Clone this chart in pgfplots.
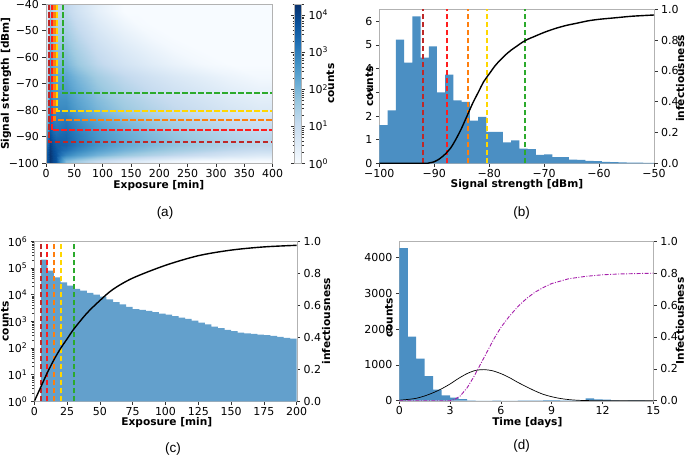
\documentclass[border=0pt]{standalone}
\usepackage{pgfplots}
\pgfplotsset{compat=1.18}
\usepackage{fontspec}
\setmainfont{DejaVu Sans}
\newfontfamily\capfont{Liberation Sans}
\definecolor{histb}{RGB}{75,143,195}
\definecolor{histc}{RGB}{99,160,204}
\definecolor{lbrown}{RGB}{190,40,40}
\definecolor{lred}{RGB}{255,30,30}
\definecolor{lorange}{RGB}{255,127,14}
\definecolor{lgold}{RGB}{255,215,0}
\definecolor{lgreen}{RGB}{44,170,44}
\definecolor{lpurple}{RGB}{165,30,170}
\pgfplotsset{
  base/.style={scale only axis, anchor=south west, font=\fontsize{11}{13}\selectfont,
    axis line style={black!30}, tick style={black!80, line width=0.6pt}, tick align=outside,
    major tick length=3.5pt, minor tick length=2pt,
    /pgf/number format/assume math mode=true, /pgf/number format/1000 sep={},
    scaled ticks=false, enlargelimits=false,
    xticklabel style={yshift=1pt},
    label style={font=\fontsize{10.6}{12}\selectfont\bfseries}},
  vl/.style={line width=2pt, dash pattern=on 5.5pt off 2.5pt},
  ylab/.style 2 args={ylabel style={at={(axis description cs:#1,#2)}, anchor=center}},
  xlab/.style 2 args={xlabel style={at={(axis description cs:#1,#2)}, anchor=center}},
}
\begin{document}
\begin{tikzpicture}
\useasboundingbox (0,0) rectangle (685pt,456pt);
% ---------------- (a) ----------------
\begin{axis}[base, at={(46pt,292.7pt)}, width=226.7pt, height=159.3pt,
  xmin=0, xmax=400, ymin=-100, ymax=-40,
  xtick={0,50,100,150,200,250,300,350,400},
  ytick={-100,-90,-80,-70,-60,-50,-40},
  yticklabels={−100,−90,−80,−70,−60,−50,−40},
  tick pos=left, axis on top,
  xlabel={Exposure [min]}, ylabel={Signal strength [dBm]},
  xlab={0.498}{-0.137}, ylab={-0.176}{0.5},
  colormap={blues}{rgb255=(247,251,255) rgb255=(222,235,247) rgb255=(198,219,239) rgb255=(158,202,225) rgb255=(107,174,214) rgb255=(66,146,198) rgb255=(33,113,181) rgb255=(8,81,156) rgb255=(8,48,107)},
  point meta min=0, point meta max=4.3,
  colorbar,
  colorbar style={at={(parent axis.north east)}, anchor=north west, xshift=13.3pt,
    scale only axis, width=7pt, height=159.3pt,
    font=\fontsize{11}{13}\selectfont,
    axis line style={black!30}, tick style={black!80, line width=0.6pt}, tick align=outside,
    major tick length=3.5pt, minor tick length=2pt,
    ytick={0,1,2,3,4},
    yticklabels={10\textsuperscript{0},10\textsuperscript{1},10\textsuperscript{2},10\textsuperscript{3},10\textsuperscript{4}},
    minor ytick={0.301,0.477,0.602,0.699,0.778,0.845,0.903,0.954,1.301,1.477,1.602,1.699,1.778,1.845,1.903,1.954,2.301,2.477,2.602,2.699,2.778,2.845,2.903,2.954,3.301,3.477,3.602,3.699,3.778,3.845,3.903,3.954,4.301},
    ylabel={counts},
    ylabel style={font=\fontsize{10.6}{12}\selectfont\bfseries, at={(axis description cs:5.14,0.5)}, anchor=center}},
]
\addplot[surf, shader=interp, mesh/cols=20, point meta=explicit] coordinates {
(0,-100)[3.6] (2.5,-100)[3.6] (7.5,-100)[4.2] (12.5,-100)[3.9] (17.5,-100)[3.7] (25,-100)[2.8] (35,-100)[1.9] (45,-100)[1.7] (55,-100)[1.55] (70,-100)[1.35] (90,-100)[1.1] (112.5,-100)[0.9] (137.5,-100)[0.7] (162.5,-100)[0.55] (187.5,-100)[0.4] (225,-100)[0.2] (275,-100)[0] (325,-100)[0] (375,-100)[0] (400,-100)[0]
(0,-99)[3.6] (2.5,-99)[3.6] (7.5,-99)[4.2] (12.5,-99)[3.9] (17.5,-99)[3.7] (25,-99)[2.8] (35,-99)[1.9] (45,-99)[1.7] (55,-99)[1.55] (70,-99)[1.35] (90,-99)[1.1] (112.5,-99)[0.9] (137.5,-99)[0.7] (162.5,-99)[0.55] (187.5,-99)[0.4] (225,-99)[0.2] (275,-99)[0] (325,-99)[0] (375,-99)[0] (400,-99)[0]
(0,-97)[3.6] (2.5,-97)[3.6] (7.5,-97)[4.2] (12.5,-97)[3.9] (17.5,-97)[3.7] (25,-97)[3.25] (35,-97)[2.85] (45,-97)[2.65] (55,-97)[2.5] (70,-97)[2.3] (90,-97)[2.05] (112.5,-97)[1.85] (137.5,-97)[1.65] (162.5,-97)[1.5] (187.5,-97)[1.35] (225,-97)[1.15] (275,-97)[0.95] (325,-97)[0.75] (375,-97)[0.6] (400,-97)[0.6]
(0,-95)[3.5] (2.5,-95)[3.5] (7.5,-95)[4.15] (12.5,-95)[3.85] (17.5,-95)[3.65] (25,-95)[3.45] (35,-95)[3.25] (45,-95)[3.05] (55,-95)[2.9] (70,-95)[2.7] (90,-95)[2.45] (112.5,-95)[2.25] (137.5,-95)[2.05] (162.5,-95)[1.9] (187.5,-95)[1.75] (225,-95)[1.55] (275,-95)[1.35] (325,-95)[1.15] (375,-95)[1.0] (400,-95)[1.0]
(0,-93)[3.3] (2.5,-93)[3.3] (7.5,-93)[4.05] (12.5,-93)[3.75] (17.5,-93)[3.55] (25,-93)[3.5] (35,-93)[3.45] (45,-93)[3.25] (55,-93)[3.1] (70,-93)[2.9] (90,-93)[2.65] (112.5,-93)[2.45] (137.5,-93)[2.25] (162.5,-93)[2.1] (187.5,-93)[1.95] (225,-93)[1.75] (275,-93)[1.55] (325,-93)[1.35] (375,-93)[1.2] (400,-93)[1.2]
(0,-91)[3.0] (2.5,-91)[3.0] (7.5,-91)[3.9] (12.5,-91)[3.6] (17.5,-91)[3.45] (25,-91)[3.45] (35,-91)[3.45] (45,-91)[3.25] (55,-91)[3.1] (70,-91)[2.9] (90,-91)[2.65] (112.5,-91)[2.45] (137.5,-91)[2.25] (162.5,-91)[2.1] (187.5,-91)[1.95] (225,-91)[1.75] (275,-91)[1.55] (325,-91)[1.35] (375,-91)[1.2] (400,-91)[1.2]
(0,-89)[2.6] (2.5,-89)[2.6] (7.5,-89)[3.75] (12.5,-89)[3.45] (17.5,-89)[3.3] (25,-89)[3.35] (35,-89)[3.4] (45,-89)[3.2] (55,-89)[3.05] (70,-89)[2.85] (90,-89)[2.6] (112.5,-89)[2.4] (137.5,-89)[2.2] (162.5,-89)[2.05] (187.5,-89)[1.9] (225,-89)[1.7] (275,-89)[1.5] (325,-89)[1.3] (375,-89)[1.15] (400,-89)[1.15]
(0,-87)[2.3] (2.5,-87)[2.3] (7.5,-87)[3.6] (12.5,-87)[3.3] (17.5,-87)[3.15] (25,-87)[3.2] (35,-87)[3.3] (45,-87)[3.1] (55,-87)[2.95] (70,-87)[2.75] (90,-87)[2.5] (112.5,-87)[2.3] (137.5,-87)[2.1] (162.5,-87)[1.95] (187.5,-87)[1.8] (225,-87)[1.6] (275,-87)[1.4] (325,-87)[1.2] (375,-87)[1.05] (400,-87)[1.05]
(0,-85)[2.0] (2.5,-85)[2.0] (7.5,-85)[3.45] (12.5,-85)[3.15] (17.5,-85)[3.05] (25,-85)[3.1] (35,-85)[3.2] (45,-85)[3.0] (55,-85)[2.85] (70,-85)[2.65] (90,-85)[2.4] (112.5,-85)[2.2] (137.5,-85)[2.0] (162.5,-85)[1.85] (187.5,-85)[1.7] (225,-85)[1.5] (275,-85)[1.3] (325,-85)[1.1] (375,-85)[0.95] (400,-85)[0.95]
(0,-83)[1.8] (2.5,-83)[1.8] (7.5,-83)[3.35] (12.5,-83)[3.05] (17.5,-83)[2.95] (25,-83)[3.0] (35,-83)[3.05] (45,-83)[2.85] (55,-83)[2.7] (70,-83)[2.5] (90,-83)[2.25] (112.5,-83)[2.05] (137.5,-83)[1.85] (162.5,-83)[1.7] (187.5,-83)[1.55] (225,-83)[1.35] (275,-83)[1.15] (325,-83)[0.95] (375,-83)[0.8] (400,-83)[0.8]
(0,-81)[1.6] (2.5,-81)[1.6] (7.5,-81)[3.25] (12.5,-81)[2.95] (17.5,-81)[2.85] (25,-81)[2.9] (35,-81)[2.9] (45,-81)[2.7] (55,-81)[2.55] (70,-81)[2.35] (90,-81)[2.1] (112.5,-81)[1.9] (137.5,-81)[1.7] (162.5,-81)[1.55] (187.5,-81)[1.4] (225,-81)[1.2] (275,-81)[1.0] (325,-81)[0.8] (375,-81)[0.65] (400,-81)[0.65]
(0,-78.75)[1.5] (2.5,-78.75)[1.5] (7.5,-78.75)[3.15] (12.5,-78.75)[2.85] (17.5,-78.75)[2.75] (25,-78.75)[2.8] (35,-78.75)[2.8] (45,-78.75)[2.6] (55,-78.75)[2.45] (70,-78.75)[2.25] (90,-78.75)[2.0] (112.5,-78.75)[1.8] (137.5,-78.75)[1.6] (162.5,-78.75)[1.45] (187.5,-78.75)[1.3] (225,-78.75)[1.1] (275,-78.75)[0.9] (325,-78.75)[0.7] (375,-78.75)[0.55] (400,-78.75)[0.55]
(0,-76.25)[1.4] (2.5,-76.25)[1.4] (7.5,-76.25)[3.05] (12.5,-76.25)[2.75] (17.5,-76.25)[2.65] (25,-76.25)[2.7] (35,-76.25)[2.7] (45,-76.25)[2.5] (55,-76.25)[2.35] (70,-76.25)[2.15] (90,-76.25)[1.9] (112.5,-76.25)[1.7] (137.5,-76.25)[1.5] (162.5,-76.25)[1.35] (187.5,-76.25)[1.2] (225,-76.25)[1.0] (275,-76.25)[0.8] (325,-76.25)[0.6] (375,-76.25)[0.45] (400,-76.25)[0.45]
(0,-72.5)[1.2] (2.5,-72.5)[1.2] (7.5,-72.5)[2.9] (12.5,-72.5)[2.6] (17.5,-72.5)[2.5] (25,-72.5)[2.55] (35,-72.5)[2.55] (45,-72.5)[2.35] (55,-72.5)[2.2] (70,-72.5)[2.0] (90,-72.5)[1.75] (112.5,-72.5)[1.55] (137.5,-72.5)[1.35] (162.5,-72.5)[1.2] (187.5,-72.5)[1.05] (225,-72.5)[0.85] (275,-72.5)[0.65] (325,-72.5)[0.45] (375,-72.5)[0.3] (400,-72.5)[0.3]
(0,-67.5)[1.0] (2.5,-67.5)[1.0] (7.5,-67.5)[2.7] (12.5,-67.5)[2.4] (17.5,-67.5)[2.3] (25,-67.5)[2.35] (35,-67.5)[2.35] (45,-67.5)[2.15] (55,-67.5)[2.0] (70,-67.5)[1.8] (90,-67.5)[1.55] (112.5,-67.5)[1.35] (137.5,-67.5)[1.15] (162.5,-67.5)[1.0] (187.5,-67.5)[0.85] (225,-67.5)[0.65] (275,-67.5)[0.45] (325,-67.5)[0.25] (375,-67.5)[0.1] (400,-67.5)[0.1]
(0,-62.5)[0.8] (2.5,-62.5)[0.8] (7.5,-62.5)[2.5] (12.5,-62.5)[2.2] (17.5,-62.5)[2.0] (25,-62.5)[2.0] (35,-62.5)[2.0] (45,-62.5)[1.8] (55,-62.5)[1.65] (70,-62.5)[1.45] (90,-62.5)[1.2] (112.5,-62.5)[1.0] (137.5,-62.5)[0.8] (162.5,-62.5)[0.65] (187.5,-62.5)[0.5] (225,-62.5)[0.3] (275,-62.5)[0.1] (325,-62.5)[0] (375,-62.5)[0] (400,-62.5)[0]
(0,-57.5)[0.6] (2.5,-57.5)[0.6] (7.5,-57.5)[2.3] (12.5,-57.5)[2.0] (17.5,-57.5)[1.8] (25,-57.5)[1.8] (35,-57.5)[1.8] (45,-57.5)[1.6] (55,-57.5)[1.45] (70,-57.5)[1.25] (90,-57.5)[1.0] (112.5,-57.5)[0.8] (137.5,-57.5)[0.6] (162.5,-57.5)[0.45] (187.5,-57.5)[0.3] (225,-57.5)[0.1] (275,-57.5)[0] (325,-57.5)[0] (375,-57.5)[0] (400,-57.5)[0]
(0,-52.5)[0.5] (2.5,-52.5)[0.5] (7.5,-52.5)[2.1] (12.5,-52.5)[1.8] (17.5,-52.5)[1.6] (25,-52.5)[1.6] (35,-52.5)[1.6] (45,-52.5)[1.4] (55,-52.5)[1.25] (70,-52.5)[1.05] (90,-52.5)[0.8] (112.5,-52.5)[0.6] (137.5,-52.5)[0.4] (162.5,-52.5)[0.25] (187.5,-52.5)[0.1] (225,-52.5)[0] (275,-52.5)[0] (325,-52.5)[0] (375,-52.5)[0] (400,-52.5)[0]
(0,-47.5)[0.4] (2.5,-47.5)[0.4] (7.5,-47.5)[1.9] (12.5,-47.5)[1.6] (17.5,-47.5)[1.4] (25,-47.5)[1.4] (35,-47.5)[1.4] (45,-47.5)[1.2] (55,-47.5)[1.05] (70,-47.5)[0.85] (90,-47.5)[0.6] (112.5,-47.5)[0.4] (137.5,-47.5)[0.2] (162.5,-47.5)[0.05] (187.5,-47.5)[0] (225,-47.5)[0] (275,-47.5)[0] (325,-47.5)[0] (375,-47.5)[0] (400,-47.5)[0]
(0,-42.5)[0.3] (2.5,-42.5)[0.3] (7.5,-42.5)[1.7] (12.5,-42.5)[1.4] (17.5,-42.5)[1.2] (25,-42.5)[1.2] (35,-42.5)[1.2] (45,-42.5)[1.0] (55,-42.5)[0.85] (70,-42.5)[0.65] (90,-42.5)[0.4] (112.5,-42.5)[0.2] (137.5,-42.5)[0] (162.5,-42.5)[0] (187.5,-42.5)[0] (225,-42.5)[0] (275,-42.5)[0] (325,-42.5)[0] (375,-42.5)[0] (400,-42.5)[0]
(0,-40)[0.3] (2.5,-40)[0.3] (7.5,-40)[1.7] (12.5,-40)[1.4] (17.5,-40)[1.2] (25,-40)[1.2] (35,-40)[1.2] (45,-40)[1.0] (55,-40)[0.85] (70,-40)[0.65] (90,-40)[0.4] (112.5,-40)[0.2] (137.5,-40)[0] (162.5,-40)[0] (187.5,-40)[0] (225,-40)[0] (275,-40)[0] (325,-40)[0] (375,-40)[0] (400,-40)[0]
};
\addplot[vl, line width=2.2pt, lbrown] coordinates {(5,-40) (5,-92) (400,-92)};
\addplot[vl, line width=2.2pt, lred] coordinates {(10,-40) (10,-87.6) (400,-87.6)};
\addplot[vl, line width=2.2pt, lorange] coordinates {(15,-40) (15,-83.8) (400,-83.8)};
\addplot[vl, line width=2.2pt, lgold] coordinates {(20,-40) (20,-80.4) (400,-80.4)};
\addplot[vl, line width=2.2pt, lgreen] coordinates {(30,-40) (30,-73.5) (400,-73.5)};
\end{axis}
% ---------------- (b) ----------------
\begin{axis}[base, at={(379.3pt,292.7pt)}, width=274.7pt, height=154pt,
  xmin=-100, xmax=-50, ymin=0, ymax=6.5,
  xtick={-100,-90,-80,-70,-60,-50}, xticklabels={−100,−90,−80,−70,−60,−50},
  ytick={0,1,2,3,4,5,6}, tick pos=left,
  xlabel={Signal strength [dBm]}, ylabel={counts},
  xlab={0.501}{-0.141}, ylab={-0.036}{0.5}]
\addplot[ybar interval, fill=histb, draw=none] coordinates {
(-100,1.61) (-98.5,2.23) (-97,5.22) (-95.5,4.25) (-94,6.20) (-92.5,4.46) (-91,4.94) (-89.5,2.99)
(-88,3.74) (-86.5,2.66) (-85,2.59) (-83.5,1.80) (-82,1.96) (-80.5,1.33) (-79,1.33) (-77.5,0.88)
(-76,0.97) (-74.5,0.62) (-73,0.60) (-71.5,0.36) (-70,0.38) (-68.5,0.26) (-67,0.26) (-65.5,0.16)
(-64,0.14) (-62.5,0.10) (-61,0.09) (-59.5,0.06) (-58,0.05) (-56.5,0.04) (-55,0.03) (-53.5,0.03)
(-52,0.02) (-50.5,0.02) (-49,0.02)};
\addplot[vl, draw=lbrown] coordinates {(-92,0) (-92,6.5)};
\addplot[vl, draw=lred] coordinates {(-87.6,0) (-87.6,6.5)};
\addplot[vl, draw=lorange] coordinates {(-83.8,0) (-83.8,6.5)};
\addplot[vl, draw=lgold] coordinates {(-80.4,0) (-80.4,6.5)};
\addplot[vl, draw=lgreen] coordinates {(-73.5,0) (-73.5,6.5)};
\node[anchor=south west, inner sep=0pt, font=\fontsize{11}{13}\selectfont] at (rel axis cs:0,1) {1e4};
\end{axis}
\begin{axis}[base, at={(379.3pt,292.7pt)}, width=274.7pt, height=154pt,
  xmin=-100, xmax=-50, ymin=0, ymax=1,
  axis y line*=right, axis x line=none,
  ytick={0,0.2,0.4,0.6,0.8,1}, yticklabels={0.0,0.2,0.4,0.6,0.8,1.0},
  ylabel={infectiousness}, ylab={1.095}{0.55}]
\addplot[black, line width=1.4pt, smooth] coordinates {
(-100,0) (-92,0) (-91,0.002) (-90,0.01) (-89,0.03) (-88,0.06) (-87,0.1) (-86,0.16) (-85,0.23)
(-84,0.31) (-83,0.39) (-82,0.46) (-81,0.53) (-80,0.58) (-79,0.63) (-78,0.67) (-77,0.705)
(-76,0.735) (-75,0.76) (-74,0.785) (-73,0.805) (-72,0.82) (-70,0.85) (-68,0.875) (-66,0.895)
(-64,0.91) (-62,0.925) (-60,0.935) (-57,0.945) (-54,0.955) (-50,0.963)};
\end{axis}
% ---------------- (c) ----------------
\begin{axis}[base, at={(34.3pt,54.7pt)}, width=262.4pt, height=160pt,
  xmin=0, xmax=200, ymode=log, ymin=1, ymax=1e6, log origin=infty,
  xtick={0,25,50,75,100,125,150,175,200},
  ytick={1,10,100,1000,10000,100000,1000000},
  yticklabels={10\textsuperscript{0},10\textsuperscript{1},10\textsuperscript{2},10\textsuperscript{3},10\textsuperscript{4},10\textsuperscript{5},10\textsuperscript{6}},
  tick pos=left, xlabel={Exposure [min]}, ylabel={counts},
  xlab={0.505}{-0.135}, ylab={-0.112}{0.5}]
\addplot[ybar interval, fill=histc, draw=none] coordinates {
(5,204000) (10,79400) (15,44700) (20,28800) (25,21900) (30,16600) (35,14100) (40,11700)
(45,10000) (50,8500) (55,6600) (60,5250) (65,4270) (70,3470) (75,2880) (80,2690)
(85,2450) (90,2190) (95,1950) (100,1780) (105,1580) (110,1380) (115,1230) (120,1050)
(125,890) (130,760) (135,630) (140,560) (145,480) (150,430) (155,380) (160,355)
(165,340) (170,316) (175,300) (180,282) (185,263) (190,240) (195,224) (200,224)};
\addplot[vl, draw=lbrown] coordinates {(5,1) (5,1e6)};
\addplot[vl, draw=lred] coordinates {(10,1) (10,1e6)};
\addplot[vl, draw=lorange] coordinates {(15,1) (15,1e6)};
\addplot[vl, draw=lgold] coordinates {(20,1) (20,1e6)};
\addplot[vl, draw=lgreen] coordinates {(30,1) (30,1e6)};
\end{axis}
\begin{axis}[base, at={(34.3pt,54.7pt)}, width=262.4pt, height=160pt,
  xmin=0, xmax=200, ymin=0, ymax=1,
  axis y line*=right, axis x line=none,
  ytick={0,0.2,0.4,0.6,0.8,1}, yticklabels={0.0,0.2,0.4,0.6,0.8,1.0},
  ylabel={infectiousness}, ylab={1.112}{0.5}]
\addplot[black, line width=1.4pt, smooth] coordinates {
(0,0) (5,0.09) (10,0.18) (15,0.26) (20,0.33) (25,0.39) (30,0.45) (40,0.55) (50,0.63)
(60,0.70) (75,0.77) (100,0.85) (125,0.91) (150,0.945) (175,0.965) (200,0.975)};
\end{axis}
% ---------------- (d) ----------------
\begin{axis}[base, at={(399.3pt,55.3pt)}, width=254pt, height=159.4pt,
  xmin=0, xmax=15, ymin=0, ymax=4460,
  xtick={0,3,6,9,12,15}, ytick={0,1000,2000,3000,4000},
  tick pos=left, xlabel={Time [days]}, ylabel={counts},
  xlab={0.504}{-0.138}, ylab={-0.041}{0.52}]
\addplot[ybar interval, fill=histb, draw=none] coordinates {
(0,4270) (0.5,1790) (1,1180) (1.5,685) (2,310) (2.5,150) (3,85) (3.5,45) (4,8) (4.5,5)
(5,5) (5.5,8) (6,5) (6.5,5) (7,12) (7.5,12) (8,12) (8.5,15) (9,15) (9.5,12)
(10,10) (10.5,12) (11,65) (11.5,35) (12,30) (12.5,10) (13,5) (13.5,8) (14,10) (14.5,3) (15,3)};
\end{axis}
\begin{axis}[base, at={(399.3pt,55.3pt)}, width=254pt, height=159.4pt,
  xmin=0, xmax=15, ymin=0, ymax=1,
  axis y line*=right, axis x line=none,
  ytick={0,0.2,0.4,0.6,0.8,1}, yticklabels={0.0,0.2,0.4,0.6,0.8,1.0},
  ylabel={Infectiousness}, ylab={1.105}{0.5}]
\addplot[black, line width=0.7pt, smooth] coordinates {
(0,0.003) (0.5,0.008) (1,0.015) (1.5,0.03) (2,0.05) (2.5,0.075) (3,0.105) (3.5,0.14) (4,0.17)
(4.5,0.19) (5,0.195) (5.5,0.188) (6,0.17) (6.5,0.145) (7,0.115) (7.5,0.088) (8,0.062)
(8.5,0.04) (9,0.025) (9.5,0.014) (10,0.007) (10.5,0.003) (11,0.001) (12,0) (15,0)};
\addplot[lpurple, line width=0.9pt, dash pattern=on 4pt off 1.5pt on 1pt off 1.5pt] coordinates {
(0,0) (3.0,0) (3.3,0.01) (3.6,0.03) (4.0,0.08) (4.4,0.15) (4.8,0.23) (5.2,0.31) (5.6,0.39)
(6.0,0.46) (6.5,0.53) (7.0,0.59) (7.5,0.64) (8.0,0.68) (8.5,0.71) (9.0,0.735) (10,0.765)
(11,0.78) (12,0.79) (13,0.795) (15,0.80)};
\end{axis}
% ---------------- captions ----------------
\node[font=\capfont\fontsize{13.5}{15}\selectfont] at (165pt,243pt) {(a)};
\node[font=\capfont\fontsize{13.5}{15}\selectfont] at (521.7pt,243pt) {(b)};
\node[font=\capfont\fontsize{13.5}{15}\selectfont] at (173pt,7pt) {(c)};
\node[font=\capfont\fontsize{13.5}{15}\selectfont] at (521.7pt,10pt) {(d)};
\end{tikzpicture}
\end{document}
